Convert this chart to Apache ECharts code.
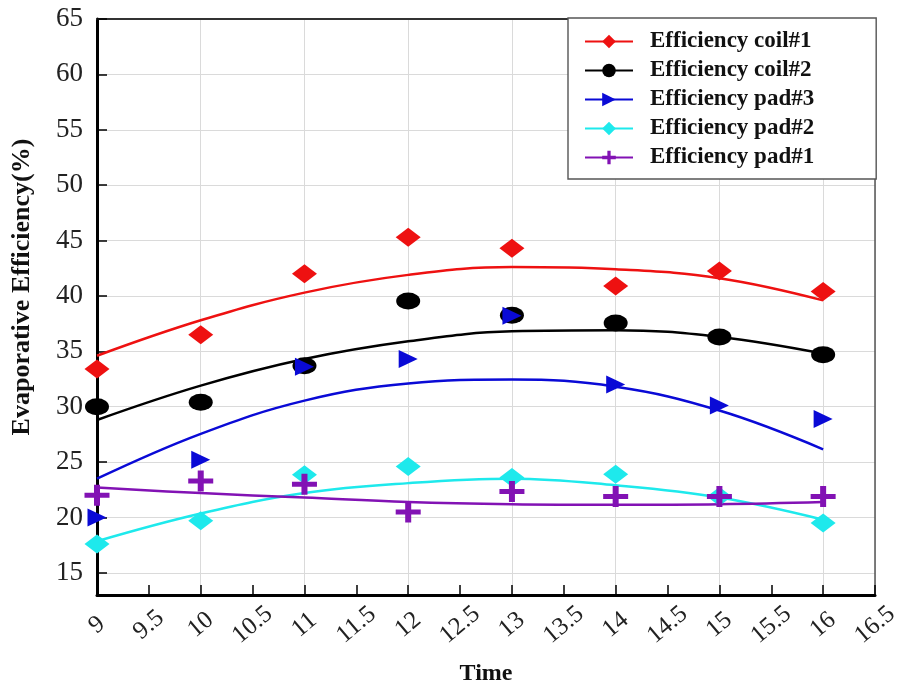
<!DOCTYPE html>
<html>
<head>
<meta charset="utf-8">
<script src="https://cdn.jsdelivr.net/npm/echarts@6/dist/echarts.min.js"></script>
<style>
html,body{margin:0;padding:0;background:#fff}
#c{width:901px;height:684px}
</style>
</head>
<body>
<div id="c"></div>
<script>
// ---- data ----
const timeHours = [9, 10, 11, 12, 13, 14, 15, 16];
const seriesNames = ['Efficiency coil#1', 'Efficiency coil#2', 'Efficiency pad#3', 'Efficiency pad#2', 'Efficiency pad#1'];

// measured points
const coil1 = [33.4, 36.5, 42.0, 45.3, 44.3, 40.9, 42.25, 40.4];
const coil2 = [30.0, 30.4, 33.7, 39.55, 38.25, 37.55, 36.3, 34.7];
const pad3  = [20.0, 25.2, 33.6, 34.3, 38.2, 32.0, 30.1, 28.9];
const pad2  = [17.6, 19.7, 23.85, 24.6, 23.6, 23.9, 21.9, 19.5];
const pad1  = [22.0, 23.3, 23.0, 20.5, 22.35, 21.9, 21.9, 21.9];

// fitted trend curves at each hour
const fitCoil1 = [34.6, 37.8, 40.3, 41.9, 42.6, 42.4, 41.6, 39.6];
const fitCoil2 = [28.8, 31.9, 34.3, 35.9, 36.8, 36.9, 36.3, 34.8];
const fitPad3  = [23.5, 27.55, 30.55, 32.1, 32.45, 31.8, 29.65, 26.15];
const fitPad2  = [17.85, 20.35, 22.2, 23.1, 23.5, 22.9, 21.8, 19.8];
const fitPad1  = [22.7, 22.2, 21.8, 21.4, 21.2, 21.15, 21.2, 21.4];

const xAxisMin = 9, xAxisMax = 16.5, xTickStep = 0.5, xGridStep = 1;
const yAxisMin = 13, yAxisMax = 65;
const xTitle = 'Time';
const yTitle = 'Evaporative Efficiency(%)';

// ---- chart ----
const points = [coil1, coil2, pad3, pad2, pad1];
const fits = [fitCoil1, fitCoil2, fitPad3, fitPad2, fitPad1];
const FONT = "'Liberation Serif','Times New Roman',serif";
const looks = [
  {color: '#ee1111', symbol: 'diamond', size: [25, 19]},
  {color: '#000000', symbol: 'circle', size: [24, 17]},
  {color: '#0a0ad6', symbol: 'path://M0,0L10,5L0,10Z', size: [19, 18]},
  {color: '#1ee9ec', symbol: 'diamond', size: [25, 19]},
  {color: '#8212b4', symbol: 'path://M3.8,0H6.2V3.8H10V6.2H6.2V10H3.8V6.2H0V3.8H3.8Z', size: [25, 21]}
];
const pair = ys => timeHours.map((x, i) => [x, ys[i]]);

const series = [];
seriesNames.forEach((name, k) => {
  series.push({
    name: name, type: 'line', data: pair(fits[k]), smooth: 0.4,
    showSymbol: false, symbol: looks[k].symbol,
    itemStyle: {color: looks[k].color},
    lineStyle: {color: looks[k].color, width: 2.5},
    z: 2, silent: true
  });
});
seriesNames.forEach((name, k) => {
  series.push({
    name: name, type: 'scatter', data: pair(points[k]),
    symbol: looks[k].symbol, symbolSize: looks[k].size,
    itemStyle: {color: looks[k].color, opacity: 1},
    z: 3
  });
});

const chart = echarts.init(document.getElementById('c'));
chart.setOption({
  animation: false,
  backgroundColor: '#fff',
  grid: {left: 97, top: 19, right: 26, bottom: 89, containLabel: false, outerBoundsMode: 'none'},
  legend: {
    orient: 'vertical', left: 568, top: 18,
    data: seriesNames,
    backgroundColor: '#fff', borderColor: '#555', borderWidth: 1.4,
    padding: [12, 62, 10, 16], itemGap: 6, itemWidth: 48, itemHeight: 17,
    textStyle: {fontFamily: FONT, fontWeight: 'bold', fontSize: 23, color: '#111', padding: [0, 0, 0, 12]},
    selectedMode: false
  },
  xAxis: [
    {
      type: 'value', position: 'bottom', min: xAxisMin, max: xAxisMax, interval: xTickStep,
      axisLine: {show: true, onZero: false, lineStyle: {color: '#000', width: 3}},
      axisTick: {show: true, inside: true, length: 10, lineStyle: {color: '#000', width: 1.5}},
      axisLabel: {rotate: 40, align: 'center', verticalAlign: 'middle', margin: 30,
        fontFamily: FONT, fontSize: 25, color: '#222', showMinLabel: true, showMaxLabel: true},
      splitLine: {show: false},
      name: xTitle, nameLocation: 'middle', nameGap: 67,
      nameTextStyle: {fontFamily: FONT, fontWeight: 'bold', fontSize: 24, color: '#111'}
    },
    {
      type: 'value', position: 'top', min: xAxisMin, max: xAxisMax, interval: xGridStep,
      axisLine: {show: true, onZero: false, lineStyle: {color: '#333', width: 2}},
      axisTick: {show: false}, axisLabel: {show: false},
      splitLine: {show: true, lineStyle: {color: '#dadada', width: 1}}
    }
  ],
  yAxis: [
    {
      type: 'value', position: 'left', min: yAxisMin, max: yAxisMax, splitNumber: 10,
      axisLine: {show: true, onZero: false, lineStyle: {color: '#000', width: 3}},
      axisTick: {show: true, inside: true, length: 10, lineStyle: {color: '#000', width: 1.5}},
      axisLabel: {fontFamily: FONT, fontSize: 27, color: '#222', margin: 14,
        formatter: v => (v % 5 === 0 ? String(v) : '')},
      splitLine: {show: true, lineStyle: {color: '#dadada', width: 1}},
      name: yTitle, nameLocation: 'middle', nameGap: 62, nameRotate: 90,
      nameTextStyle: {fontFamily: FONT, fontWeight: 'bold', fontSize: 26, color: '#111', padding: [0, 0, 0, 40]}
    },
    {
      type: 'value', position: 'right', min: yAxisMin, max: yAxisMax,
      axisLine: {show: true, onZero: false, lineStyle: {color: '#555', width: 1.5}},
      axisTick: {show: false}, axisLabel: {show: false}, splitLine: {show: false}
    }
  ],
  series: series
});
</script>
</body>
</html>
